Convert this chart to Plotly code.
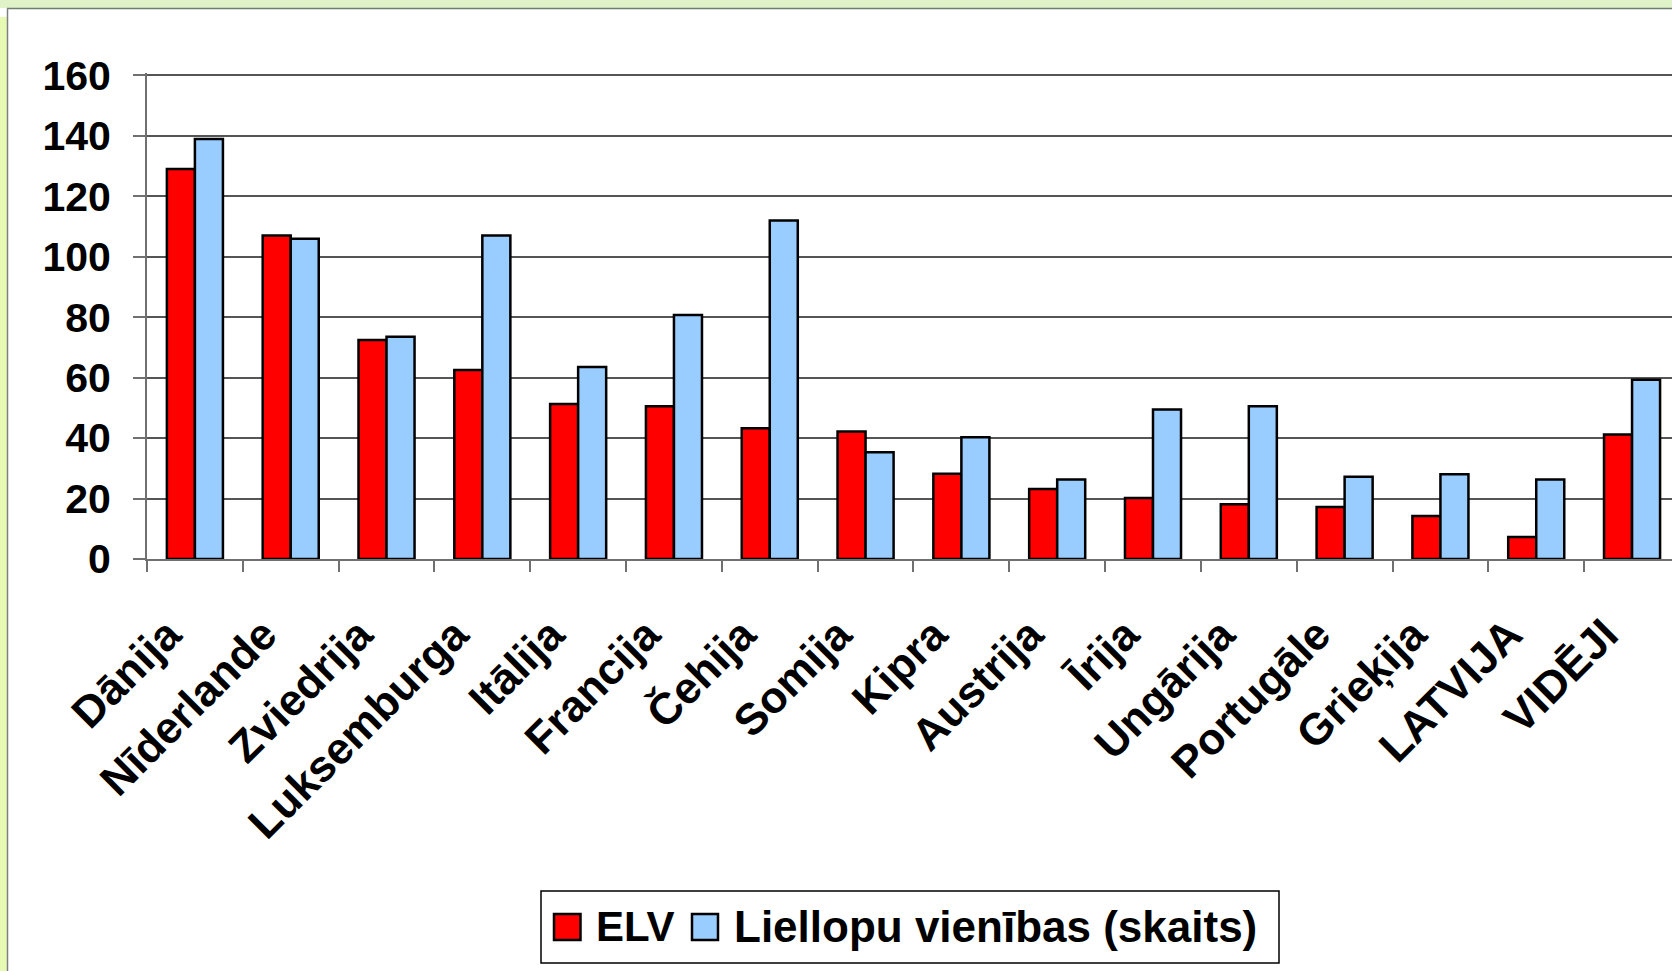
import plotly.graph_objects as go

categories = ["Dānija", "Nīderlande", "Zviedrija", "Luksemburga", "Itālija", "Francija",
              "Čehija", "Somija", "Kipra", "Austrija", "Īrija", "Ungārija", "Portugāle",
              "Grieķija", "LATVIJA", "VIDĒJI"]
elv = [129, 107, 72.5, 62.5, 51.3, 50.5, 43.3, 42.2, 28.2, 23.2, 20.2, 18.1, 17.2, 14.2, 7.3, 41.2]
liellopu = [139, 106, 73.5, 107, 63.5, 80.7, 112, 35.3, 40.3, 26.3, 49.5, 50.5, 27.2, 28, 26.3, 59.3]
series_names = ["ELV", "Liellopu vienības (skaits)"]
y_ticks = [0, 20, 40, 60, 80, 100, 120, 140, 160]

RED = "#ff0000"
BLUE = "#99ccff"

W, H = 1672, 971
L, R, T, B = 147, 0, 73, 412
PW = W - L - R
PH = H - T - B


def px(X):
    return (X - L) / PW


def py(Y):
    return (H - B - Y) / PH


FONT = "Liberation Sans, Arial, sans-serif"

fig = go.Figure()
fig.add_trace(go.Bar(x=categories, y=elv, name=series_names[0], showlegend=False,
                     marker=dict(color=RED, line=dict(color="black", width=2.5))))
fig.add_trace(go.Bar(x=categories, y=liellopu, name=series_names[1], showlegend=False,
                     marker=dict(color=BLUE, line=dict(color="black", width=2.5))))

shapes = [
    # top green band
    dict(type="rect", xref="paper", yref="paper", x0=px(0), x1=px(W), y0=py(8), y1=py(0),
         fillcolor="#dff2c8", line=dict(width=0), layer="below"),
    dict(type="line", xref="paper", yref="paper", x0=px(7), x1=px(W), y0=py(8.5), y1=py(8.5),
         line=dict(color="#6f7f6f", width=1.5)),
    # left band
    dict(type="rect", xref="paper", yref="paper", x0=px(0), x1=px(7), y0=py(H), y1=py(17),
         fillcolor="#e6fab4", line=dict(width=0), layer="below"),
    dict(type="line", xref="paper", yref="paper", x0=px(7.5), x1=px(7.5), y0=py(H), y1=py(8.5),
         line=dict(color="#808080", width=1.5)),
    # legend box
    dict(type="rect", xref="paper", yref="paper", x0=px(541), x1=px(1279), y0=py(963), y1=py(891),
         fillcolor="white", line=dict(color="black", width=1.5)),
    # legend swatches
    dict(type="rect", xref="paper", yref="paper", x0=px(554), x1=px(580.5), y0=py(940), y1=py(914),
         fillcolor=RED, line=dict(color="black", width=2.5)),
    dict(type="rect", xref="paper", yref="paper", x0=px(692), x1=px(718), y0=py(940), y1=py(914),
         fillcolor=BLUE, line=dict(color="black", width=2.5)),
]

annotations = [
    dict(xref="paper", yref="paper", x=px(594), y=py(926), text=series_names[0],
         xanchor="left", yanchor="middle", showarrow=False,
         font=dict(family=FONT, size=42, weight=700, color="black")),
    dict(xref="paper", yref="paper", x=px(732), y=py(926), text=series_names[1],
         xanchor="left", yanchor="middle", showarrow=False,
         font=dict(family=FONT, size=44, weight=700, color="black")),
]

fig.update_layout(
    width=W, height=H,
    margin=dict(l=L, r=R, t=T, b=B, pad=0),
    paper_bgcolor="white", plot_bgcolor="white",
    barmode="group", bargap=0.415, bargroupgap=0,
    font=dict(family=FONT, color="black"),
    shapes=shapes,
    annotations=annotations,
    showlegend=False,
    xaxis=dict(type="category", categoryorder="array", categoryarray=categories,
               range=[-0.5, 15.417], showgrid=False,
               showline=True, linecolor="#707070", linewidth=2,
               ticks="outside", tickson="boundaries", ticklen=11, tickcolor="#707070", tickwidth=1.5,
               tickangle=-45, ticklabelshift=-27, ticklabelstandoff=30,
               tickfont=dict(family=FONT, size=44, weight=700, color="black")),
    yaxis=dict(range=[0, 160.8], tickvals=y_ticks, showgrid=True, gridcolor="#555555", gridwidth=1.5,
               showline=True, linecolor="#707070", linewidth=2, zeroline=False,
               ticks="outside", ticklen=12, tickcolor="#707070", tickwidth=1.5,
               ticklabelstandoff=14,
               tickfont=dict(family=FONT, size=41, weight=700, color="black")),
)

fig.write_html("out.html", config={"displayModeBar": False},
               post_script="document.body.style.margin='0';")
